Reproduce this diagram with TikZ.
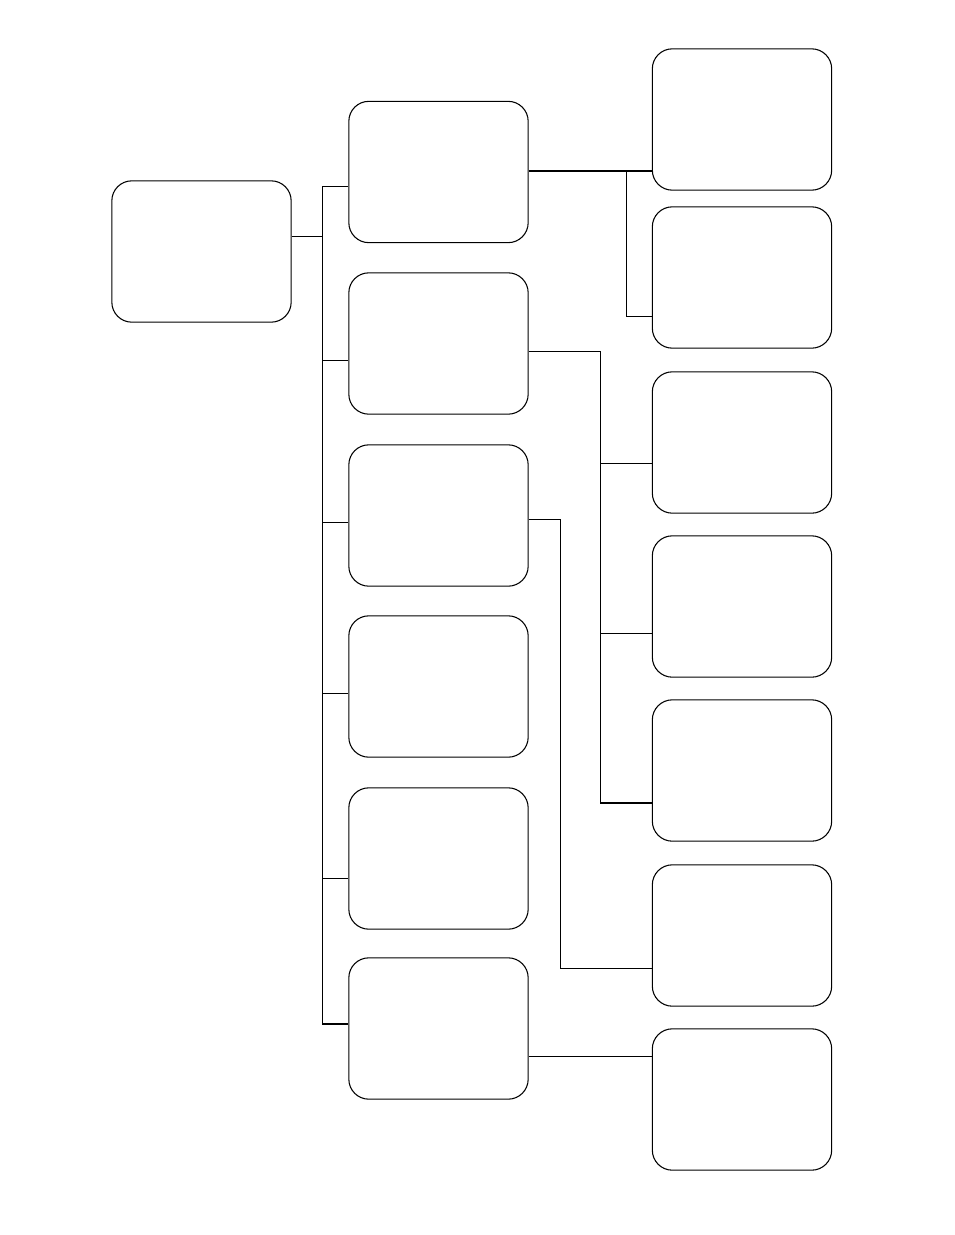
\documentclass[tikz,border=0pt]{standalone}
\usepackage{tikz}
\tikzset{
  card/.style={draw,rectangle,rounded corners=15pt,line width=0.8pt,
    minimum width=134.5pt,minimum height=106pt,inner sep=0pt},
  link/.style={line width=0.6pt},
  heavylink/.style={line width=1.1pt}
}

\begin{document}
\begin{tikzpicture}[x=0.75pt,y=-0.75pt]
\useasboundingbox (0,0) rectangle (954,1235);
% root
\node[card] (root) at (201.5,251.5) {};
% middle column
\node[card] (m1) at (438.5,172) {};
\node[card] (m2) at (438.5,343.5) {};
\node[card] (m3) at (438.5,515.5) {};
\node[card] (m4) at (438.5,686.5) {};
\node[card] (m5) at (438.5,858.5) {};
\node[card] (m6) at (438.5,1028.5) {};
% right column
\node[card] (r1) at (742,119.5) {};
\node[card] (r2) at (742,277.5) {};
\node[card] (r3) at (742,442.5) {};
\node[card] (r4) at (742,606.5) {};
\node[card] (r5) at (742,770.5) {};
\node[card] (r6) at (742,935.5) {};
\node[card] (r7) at (742,1099.5) {};
% trunk junctions
\coordinate (t0) at (322,236);
\coordinate (t1) at (322,186);
\coordinate (t2) at (322,360);
\coordinate (t3) at (322,522);
\coordinate (t4) at (322,693);
\coordinate (t5) at (322,878);
\coordinate (t6) at (322,1024);
\draw[link] (t0 -| root.east) -- (t0);
\draw[link] (t1) -- (t6);
\draw[link] (t1) -- (t1 -| m1.west);
\draw[link] (t2) -- (t2 -| m2.west);
\draw[link] (t3) -- (t3 -| m3.west);
\draw[link] (t4) -- (t4 -| m4.west);
\draw[link] (t5) -- (t5 -| m5.west);
\draw[heavylink] (t6) -- (t6 -| m6.west);
% branch of m1
\coordinate (a1) at (626,171);
\coordinate (a2) at (626,316);
\draw[heavylink] (a1 -| m1.east) -- (a1 -| r1.west);
\draw[link] (a1) -- (a2) -- (a2 -| r2.west);
% branch of m2
\coordinate (b1) at (600,351);
\coordinate (b3) at (600,463);
\coordinate (b4) at (600,633);
\coordinate (b5) at (600,803);
\draw[link] (b1 -| m2.east) -- (b1) -- (b5);
\draw[link] (b3) -- (b3 -| r3.west);
\draw[link] (b4) -- (b4 -| r4.west);
\draw[heavylink] (b5) -- (b5 -| r5.west);
% branch of m3
\coordinate (c1) at (560,519);
\coordinate (c6) at (560,968);
\draw[link] (c1 -| m3.east) -- (c1) -- (c6) -- (c6 -| r6.west);
% branch of m6
\coordinate (d1) at (590,1056);
\draw[link] (d1 -| m6.east) -- (d1 -| r7.west);
\end{tikzpicture}
\end{document}
